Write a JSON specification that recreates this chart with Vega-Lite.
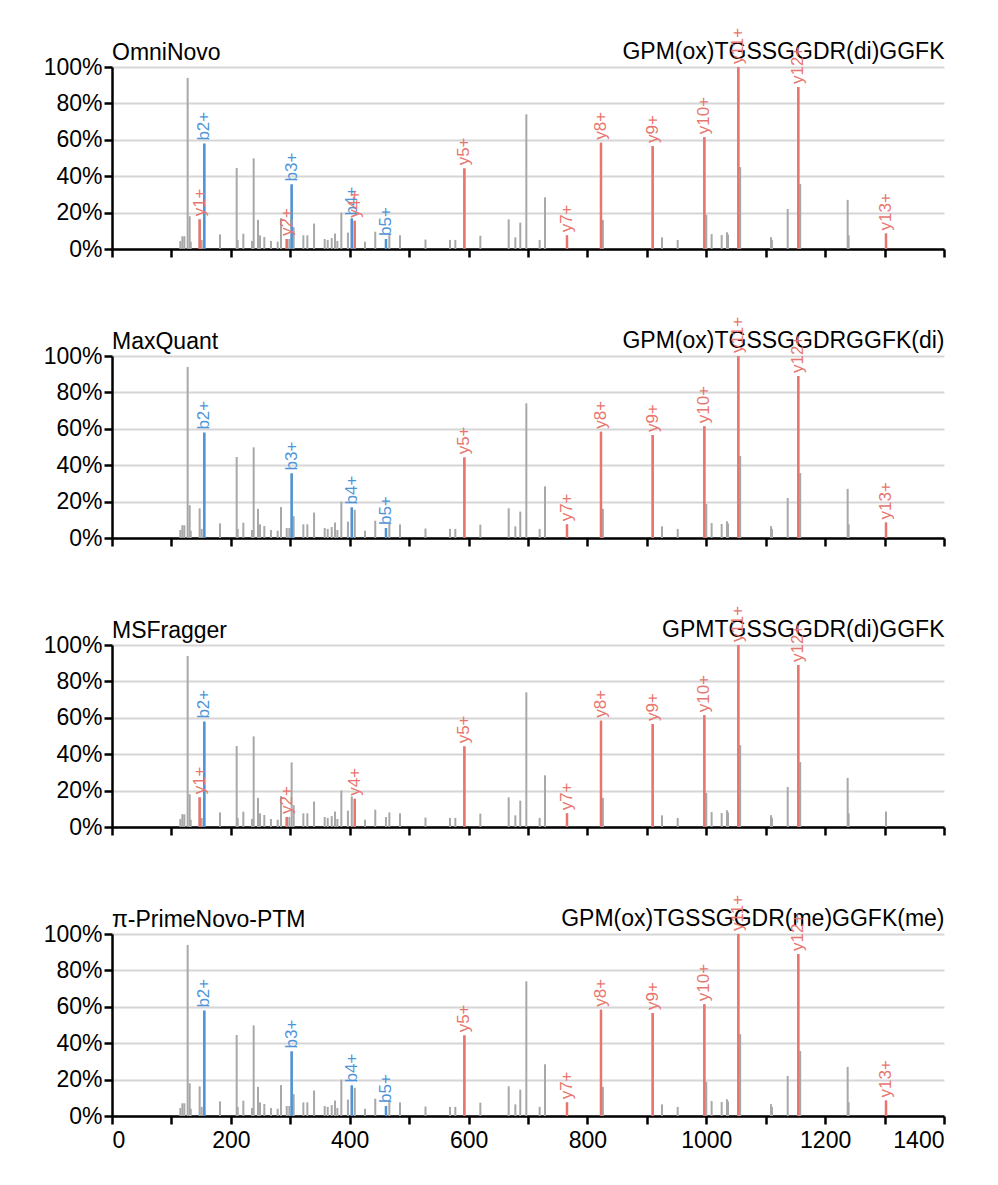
{
  "$schema": "https://vega.github.io/schema/vega-lite/v6.json",
  "padding": {"left": 43, "top": 27, "right": 10, "bottom": 10},
  "spacing": 55,
  "config": {
    "font": "Liberation Sans",
    "view": {"stroke": null},
    "axis": {"domainColor": "black", "domainWidth": 2.5, "tickColor": "black", "tickWidth": 2.5, "tickSize": 8, "labelFont": "Liberation Sans", "labelFontSize": 23, "labelColor": "black", "gridColor": "#d6d6d6", "gridWidth": 2, "labelPadding": 2, "labelOverlap": false},
    "title": {"font": "Liberation Sans", "fontSize": 23, "fontWeight": "normal", "anchor": "start", "frame": "group", "color": "black", "offset": -37}
  },
  "datasets": {
    "peaks": [
      {"mz": 115, "intensity": 4.4}, {"mz": 118.4, "intensity": 7}, {"mz": 121.7, "intensity": 7}, {"mz": 127.3, "intensity": 94}, {"mz": 130.7, "intensity": 18}, {"mz": 132.5, "intensity": 4},
      {"mz": 147.5, "intensity": 16.3}, {"mz": 150.9, "intensity": 5}, {"mz": 155.3, "intensity": 57.9}, {"mz": 181.7, "intensity": 8}, {"mz": 209.8, "intensity": 44.5}, {"mz": 211.5, "intensity": 5},
      {"mz": 221, "intensity": 8.4}, {"mz": 235.6, "intensity": 4.4}, {"mz": 238.4, "intensity": 49.8}, {"mz": 245.7, "intensity": 16}, {"mz": 249, "intensity": 7.5}, {"mz": 256.3, "intensity": 6.6},
      {"mz": 267.5, "intensity": 4.4}, {"mz": 278.8, "intensity": 4}, {"mz": 284.4, "intensity": 17}, {"mz": 294, "intensity": 5.5}, {"mz": 298.4, "intensity": 5.5}, {"mz": 302.3, "intensity": 35.5},
      {"mz": 305.7, "intensity": 12}, {"mz": 322, "intensity": 7.5}, {"mz": 328.7, "intensity": 7.5}, {"mz": 340, "intensity": 14}, {"mz": 357.9, "intensity": 5.5}, {"mz": 363, "intensity": 5},
      {"mz": 369.7, "intensity": 6}, {"mz": 375.2, "intensity": 8.5}, {"mz": 379.2, "intensity": 4.4}, {"mz": 385.9, "intensity": 20}, {"mz": 397, "intensity": 9}, {"mz": 403.5, "intensity": 16.8},
      {"mz": 408.5, "intensity": 15.5}, {"mz": 425.7, "intensity": 4}, {"mz": 443, "intensity": 9.5}, {"mz": 461, "intensity": 5.5}, {"mz": 466.7, "intensity": 8}, {"mz": 484.6, "intensity": 7.5},
      {"mz": 527.5, "intensity": 5.2}, {"mz": 568.7, "intensity": 5}, {"mz": 577.7, "intensity": 5}, {"mz": 592.9, "intensity": 44.3}, {"mz": 619.8, "intensity": 7.3}, {"mz": 667.5, "intensity": 16.3},
      {"mz": 678.7, "intensity": 6.4}, {"mz": 687, "intensity": 14.5}, {"mz": 697.2, "intensity": 74}, {"mz": 719.6, "intensity": 5}, {"mz": 728.6, "intensity": 28.4}, {"mz": 765.6, "intensity": 7.5},
      {"mz": 822.8, "intensity": 58.4}, {"mz": 826, "intensity": 16}, {"mz": 909.8, "intensity": 56.6}, {"mz": 925.5, "intensity": 6.4}, {"mz": 951.9, "intensity": 5}, {"mz": 996.7, "intensity": 61.4},
      {"mz": 1000, "intensity": 18.7}, {"mz": 1009, "intensity": 8.2}, {"mz": 1025.9, "intensity": 7.7}, {"mz": 1034.8, "intensity": 9.2}, {"mz": 1036.5, "intensity": 8}, {"mz": 1053.9, "intensity": 100},
      {"mz": 1057, "intensity": 45}, {"mz": 1108.9, "intensity": 6.5}, {"mz": 1110.5, "intensity": 5}, {"mz": 1137, "intensity": 22}, {"mz": 1154.8, "intensity": 89}, {"mz": 1158, "intensity": 35.7},
      {"mz": 1237.9, "intensity": 27}, {"mz": 1239.5, "intensity": 7.5}, {"mz": 1302.4, "intensity": 8.5}
    ],
    "omni": [
      {"mz": 147.5, "intensity": 16.3, "ion": "y1+", "series": "y"}, {"mz": 155.3, "intensity": 57.9, "ion": "b2+", "series": "b"}, {"mz": 294, "intensity": 5.5, "ion": "y2+", "series": "y"},
      {"mz": 302.3, "intensity": 35.5, "ion": "b3+", "series": "b"}, {"mz": 403.5, "intensity": 16.8, "ion": "b4+", "series": "b"}, {"mz": 408.5, "intensity": 15.5, "ion": "y4+", "series": "y"},
      {"mz": 461, "intensity": 5.5, "ion": "b5+", "series": "b"}, {"mz": 592.9, "intensity": 44.3, "ion": "y5+", "series": "y"}, {"mz": 765.6, "intensity": 7.5, "ion": "y7+", "series": "y"},
      {"mz": 822.8, "intensity": 58.4, "ion": "y8+", "series": "y"}, {"mz": 909.8, "intensity": 56.6, "ion": "y9+", "series": "y"}, {"mz": 996.7, "intensity": 61.4, "ion": "y10+", "series": "y"},
      {"mz": 1053.9, "intensity": 100, "ion": "y11+", "series": "y"}, {"mz": 1154.8, "intensity": 89, "ion": "y12+", "series": "y"}, {"mz": 1302.4, "intensity": 8.5, "ion": "y13+", "series": "y"}
    ],
    "maxquant": [
      {"mz": 155.3, "intensity": 57.9, "ion": "b2+", "series": "b"}, {"mz": 302.3, "intensity": 35.5, "ion": "b3+", "series": "b"}, {"mz": 403.5, "intensity": 16.8, "ion": "b4+", "series": "b"},
      {"mz": 461, "intensity": 5.5, "ion": "b5+", "series": "b"}, {"mz": 592.9, "intensity": 44.3, "ion": "y5+", "series": "y"}, {"mz": 765.6, "intensity": 7.5, "ion": "y7+", "series": "y"},
      {"mz": 822.8, "intensity": 58.4, "ion": "y8+", "series": "y"}, {"mz": 909.8, "intensity": 56.6, "ion": "y9+", "series": "y"}, {"mz": 996.7, "intensity": 61.4, "ion": "y10+", "series": "y"},
      {"mz": 1053.9, "intensity": 100, "ion": "y11+", "series": "y"}, {"mz": 1154.8, "intensity": 89, "ion": "y12+", "series": "y"}, {"mz": 1302.4, "intensity": 8.5, "ion": "y13+", "series": "y"}
    ],
    "msfragger": [
      {"mz": 147.5, "intensity": 16.3, "ion": "y1+", "series": "y"}, {"mz": 155.3, "intensity": 57.9, "ion": "b2+", "series": "b"}, {"mz": 294, "intensity": 5.5, "ion": "y2+", "series": "y"},
      {"mz": 408.5, "intensity": 15.5, "ion": "y4+", "series": "y"}, {"mz": 592.9, "intensity": 44.3, "ion": "y5+", "series": "y"}, {"mz": 765.6, "intensity": 7.5, "ion": "y7+", "series": "y"},
      {"mz": 822.8, "intensity": 58.4, "ion": "y8+", "series": "y"}, {"mz": 909.8, "intensity": 56.6, "ion": "y9+", "series": "y"}, {"mz": 996.7, "intensity": 61.4, "ion": "y10+", "series": "y"},
      {"mz": 1053.9, "intensity": 100, "ion": "y11+", "series": "y"}, {"mz": 1154.8, "intensity": 89, "ion": "y12+", "series": "y"}
    ],
    "primenovo": [
      {"mz": 155.3, "intensity": 57.9, "ion": "b2+", "series": "b"}, {"mz": 302.3, "intensity": 35.5, "ion": "b3+", "series": "b"}, {"mz": 403.5, "intensity": 16.8, "ion": "b4+", "series": "b"},
      {"mz": 461, "intensity": 5.5, "ion": "b5+", "series": "b"}, {"mz": 592.9, "intensity": 44.3, "ion": "y5+", "series": "y"}, {"mz": 765.6, "intensity": 7.5, "ion": "y7+", "series": "y"},
      {"mz": 822.8, "intensity": 58.4, "ion": "y8+", "series": "y"}, {"mz": 909.8, "intensity": 56.6, "ion": "y9+", "series": "y"}, {"mz": 996.7, "intensity": 61.4, "ion": "y10+", "series": "y"},
      {"mz": 1053.9, "intensity": 100, "ion": "y11+", "series": "y"}, {"mz": 1154.8, "intensity": 89, "ion": "y12+", "series": "y"}, {"mz": 1302.4, "intensity": 8.5, "ion": "y13+", "series": "y"}
    ]
  },
  "vconcat": [
    {
      "width": 832, "height": 182,
      "title": {"text": "OmniNovo"},
      "resolve": {"axis": {"x": "independent"}},
      "layer": [
        {"data": {"name": "peaks"}, "mark": {"type": "rule", "color": "#a8a8a8", "strokeWidth": 2},
         "encoding": {
           "x": {"field": "mz", "type": "quantitative", "scale": {"domain": [0, 1400], "nice": false, "zero": false}, "axis": {"values": [0, 100, 200, 300, 400, 500, 600, 700, 800, 900, 1000, 1100, 1200, 1300, 1400], "labels": false, "grid": false, "title": null}},
           "y": {"field": "intensity", "type": "quantitative", "scale": {"domain": [0, 100], "nice": false}, "title": null, "axis": {"values": [0, 20, 40, 60, 80, 100], "labelExpr": "datum.value + '%'", "grid": true, "title": null}},
           "y2": {"datum": 0}}},
        {"data": {"name": "omni"}, "mark": {"type": "rule", "strokeWidth": 2.5},
         "encoding": {
           "x": {"field": "mz", "type": "quantitative", "axis": {"orient": "top", "title": "GPM(ox)TGSSGGDR(di)GGFK", "labels": false, "ticks": false, "domain": false, "grid": false, "titleAnchor": "end", "titleFontSize": 23, "titleFontWeight": "normal", "titleFont": "Liberation Sans", "titleColor": "black", "titlePadding": 9, "titleBaseline": "alphabetic"}},
           "y": {"field": "intensity", "type": "quantitative", "title": null, "axis": {"values": [0, 20, 40, 60, 80, 100], "labelExpr": "datum.value + '%'", "grid": true, "title": null}},
           "y2": {"datum": 0},
           "color": {"field": "series", "type": "nominal", "scale": {"domain": ["b", "y"], "range": ["#4f94d8", "#e8766e"]}, "legend": null}}},
        {"data": {"name": "omni"}, "mark": {"type": "text", "angle": 270, "align": "left", "baseline": "middle", "dx": 3, "fontSize": 17},
         "encoding": {
           "x": {"field": "mz", "type": "quantitative", "axis": null},
           "y": {"field": "intensity", "type": "quantitative", "title": null, "axis": {"values": [0, 20, 40, 60, 80, 100], "labelExpr": "datum.value + '%'", "grid": true, "title": null}},
           "text": {"field": "ion"},
           "color": {"field": "series", "type": "nominal", "legend": null}}}
      ]
    },
    {
      "width": 832, "height": 182,
      "title": {"text": "MaxQuant"},
      "resolve": {"axis": {"x": "independent"}},
      "layer": [
        {"data": {"name": "peaks"}, "mark": {"type": "rule", "color": "#a8a8a8", "strokeWidth": 2},
         "encoding": {
           "x": {"field": "mz", "type": "quantitative", "scale": {"domain": [0, 1400], "nice": false, "zero": false}, "axis": {"values": [0, 100, 200, 300, 400, 500, 600, 700, 800, 900, 1000, 1100, 1200, 1300, 1400], "labels": false, "grid": false, "title": null}},
           "y": {"field": "intensity", "type": "quantitative", "scale": {"domain": [0, 100], "nice": false}, "title": null, "axis": {"values": [0, 20, 40, 60, 80, 100], "labelExpr": "datum.value + '%'", "grid": true, "title": null}},
           "y2": {"datum": 0}}},
        {"data": {"name": "maxquant"}, "mark": {"type": "rule", "strokeWidth": 2.5},
         "encoding": {
           "x": {"field": "mz", "type": "quantitative", "axis": {"orient": "top", "title": "GPM(ox)TGSSGGDRGGFK(di)", "labels": false, "ticks": false, "domain": false, "grid": false, "titleAnchor": "end", "titleFontSize": 23, "titleFontWeight": "normal", "titleFont": "Liberation Sans", "titleColor": "black", "titlePadding": 9, "titleBaseline": "alphabetic"}},
           "y": {"field": "intensity", "type": "quantitative", "title": null, "axis": {"values": [0, 20, 40, 60, 80, 100], "labelExpr": "datum.value + '%'", "grid": true, "title": null}},
           "y2": {"datum": 0},
           "color": {"field": "series", "type": "nominal", "scale": {"domain": ["b", "y"], "range": ["#4f94d8", "#e8766e"]}, "legend": null}}},
        {"data": {"name": "maxquant"}, "mark": {"type": "text", "angle": 270, "align": "left", "baseline": "middle", "dx": 3, "fontSize": 17},
         "encoding": {
           "x": {"field": "mz", "type": "quantitative", "axis": null},
           "y": {"field": "intensity", "type": "quantitative", "title": null, "axis": {"values": [0, 20, 40, 60, 80, 100], "labelExpr": "datum.value + '%'", "grid": true, "title": null}},
           "text": {"field": "ion"},
           "color": {"field": "series", "type": "nominal", "legend": null}}}
      ]
    },
    {
      "width": 832, "height": 182,
      "title": {"text": "MSFragger"},
      "resolve": {"axis": {"x": "independent"}},
      "layer": [
        {"data": {"name": "peaks"}, "mark": {"type": "rule", "color": "#a8a8a8", "strokeWidth": 2},
         "encoding": {
           "x": {"field": "mz", "type": "quantitative", "scale": {"domain": [0, 1400], "nice": false, "zero": false}, "axis": {"values": [0, 100, 200, 300, 400, 500, 600, 700, 800, 900, 1000, 1100, 1200, 1300, 1400], "labels": false, "grid": false, "title": null}},
           "y": {"field": "intensity", "type": "quantitative", "scale": {"domain": [0, 100], "nice": false}, "title": null, "axis": {"values": [0, 20, 40, 60, 80, 100], "labelExpr": "datum.value + '%'", "grid": true, "title": null}},
           "y2": {"datum": 0}}},
        {"data": {"name": "msfragger"}, "mark": {"type": "rule", "strokeWidth": 2.5},
         "encoding": {
           "x": {"field": "mz", "type": "quantitative", "axis": {"orient": "top", "title": "GPMTGSSGGDR(di)GGFK", "labels": false, "ticks": false, "domain": false, "grid": false, "titleAnchor": "end", "titleFontSize": 23, "titleFontWeight": "normal", "titleFont": "Liberation Sans", "titleColor": "black", "titlePadding": 9, "titleBaseline": "alphabetic"}},
           "y": {"field": "intensity", "type": "quantitative", "title": null, "axis": {"values": [0, 20, 40, 60, 80, 100], "labelExpr": "datum.value + '%'", "grid": true, "title": null}},
           "y2": {"datum": 0},
           "color": {"field": "series", "type": "nominal", "scale": {"domain": ["b", "y"], "range": ["#4f94d8", "#e8766e"]}, "legend": null}}},
        {"data": {"name": "msfragger"}, "mark": {"type": "text", "angle": 270, "align": "left", "baseline": "middle", "dx": 3, "fontSize": 17},
         "encoding": {
           "x": {"field": "mz", "type": "quantitative", "axis": null},
           "y": {"field": "intensity", "type": "quantitative", "title": null, "axis": {"values": [0, 20, 40, 60, 80, 100], "labelExpr": "datum.value + '%'", "grid": true, "title": null}},
           "text": {"field": "ion"},
           "color": {"field": "series", "type": "nominal", "legend": null}}}
      ]
    },
    {
      "width": 832, "height": 182,
      "title": {"text": "π-PrimeNovo-PTM"},
      "resolve": {"axis": {"x": "independent"}},
      "layer": [
        {"data": {"name": "peaks"}, "mark": {"type": "rule", "color": "#a8a8a8", "strokeWidth": 2},
         "encoding": {
           "x": {"field": "mz", "type": "quantitative", "scale": {"domain": [0, 1400], "nice": false, "zero": false}, "axis": {"values": [0, 100, 200, 300, 400, 500, 600, 700, 800, 900, 1000, 1100, 1200, 1300, 1400], "labelExpr": "datum.value % 200 === 0 ? datum.value : ''", "labelPadding": 5, "grid": false, "title": null}},
           "y": {"field": "intensity", "type": "quantitative", "scale": {"domain": [0, 100], "nice": false}, "title": null, "axis": {"values": [0, 20, 40, 60, 80, 100], "labelExpr": "datum.value + '%'", "grid": true, "title": null}},
           "y2": {"datum": 0}}},
        {"data": {"name": "primenovo"}, "mark": {"type": "rule", "strokeWidth": 2.5},
         "encoding": {
           "x": {"field": "mz", "type": "quantitative", "axis": {"orient": "top", "title": "GPM(ox)TGSSGGDR(me)GGFK(me)", "labels": false, "ticks": false, "domain": false, "grid": false, "titleAnchor": "end", "titleFontSize": 23, "titleFontWeight": "normal", "titleFont": "Liberation Sans", "titleColor": "black", "titlePadding": 9, "titleBaseline": "alphabetic"}},
           "y": {"field": "intensity", "type": "quantitative", "title": null, "axis": {"values": [0, 20, 40, 60, 80, 100], "labelExpr": "datum.value + '%'", "grid": true, "title": null}},
           "y2": {"datum": 0},
           "color": {"field": "series", "type": "nominal", "scale": {"domain": ["b", "y"], "range": ["#4f94d8", "#e8766e"]}, "legend": null}}},
        {"data": {"name": "primenovo"}, "mark": {"type": "text", "angle": 270, "align": "left", "baseline": "middle", "dx": 3, "fontSize": 17},
         "encoding": {
           "x": {"field": "mz", "type": "quantitative", "axis": null},
           "y": {"field": "intensity", "type": "quantitative", "title": null, "axis": {"values": [0, 20, 40, 60, 80, 100], "labelExpr": "datum.value + '%'", "grid": true, "title": null}},
           "text": {"field": "ion"},
           "color": {"field": "series", "type": "nominal", "legend": null}}}
      ]
    }
  ]
}
